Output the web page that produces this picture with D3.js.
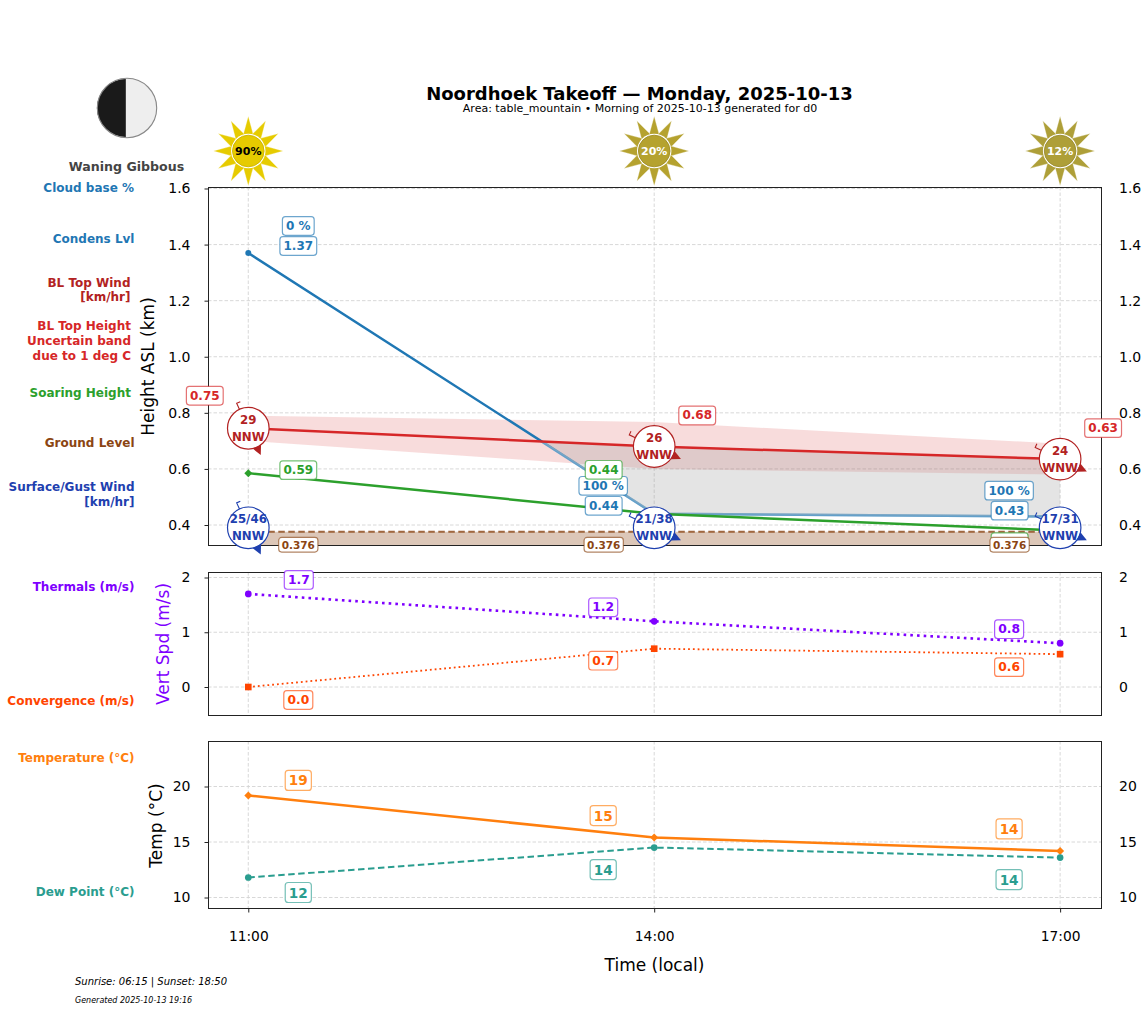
<!DOCTYPE html>
<html><head><meta charset="utf-8">
<script src="https://cdnjs.cloudflare.com/ajax/libs/d3/7.8.5/d3.min.js"></script>
<style>html,body{margin:0;padding:0;background:#fff}svg{display:block}text{font-family:"DejaVu Sans",sans-serif}</style>
</head><body><svg id="c" width="1147" height="1011"></svg>
<script>
const hours=[11,14,17];
const timeLabels=["11:00","14:00","17:00"];
const cloudPct=[90,20,12];
const condensLevel=[1.37,0.44,0.43];
const cloudBasePct=[0,100,100];
const blTop=[0.745,0.68,0.635];
const blTopUpper=[0.79,0.767,0.69];
const blTopLower=[0.70,0.60,0.58];
const soaring=[0.585,0.44,0.38];
const ground=[0.376,0.376,0.376];
const blWind=["29","26","24"];
const blDir=["NNW","WNW","WNW"];
const surfWind=["25/46","21/38","17/31"];
const surfDir=["NNW","WNW","WNW"];
const surfRow=[0.39,0.39,0.39];
const thermals=[1.7,1.2,0.8];
const convergence=[0,0.7,0.6];
const temp=[19.2,15.4,14.2];
const dew=[11.8,14.5,13.6];
const ticks1=[0.4,0.6,0.8,1.0,1.2,1.4,1.6];
const ticks2=[0,1,2];
const ticks3=[10,15,20];

const svg=d3.select("#c");
const L=208,R=1101;
const x=d3.scaleLinear().domain([10.7022,17.3022]).range([L,R]);
const y1=d3.scaleLinear().domain([0.3287,1.6053]).range([545,187]);
const y2=d3.scaleLinear().domain([-0.5114,2.1005]).range([715,572]);
const y3=d3.scaleLinear().domain([9.054,24.1]).range([908,741]);
const compass={NNW:155,WNW:115};

function panel(y,ticks){
  const [b,t]=y.range();
  const g=svg.append("g");
  g.append("g").selectAll("line").data(ticks).join("line")
    .attr("x1",L).attr("x2",R).attr("y1",d=>y(d)).attr("y2",d=>y(d))
    .attr("stroke","#d4d4d4").attr("stroke-width",0.9).attr("stroke-dasharray","3.5,2");
  g.append("g").selectAll("line").data(hours).join("line")
    .attr("x1",d=>x(d)).attr("x2",d=>x(d)).attr("y1",t).attr("y2",b)
    .attr("stroke","#d4d4d4").attr("stroke-width",0.9).attr("stroke-dasharray","3.5,2");
  return g;
}
function frame(y,ticks,fmt){
  const [b,t]=y.range();
  svg.append("rect").attr("x",L+0.5).attr("y",t+0.5).attr("width",R-L).attr("height",b-t)
    .attr("fill","none").attr("stroke","#222").attr("stroke-width",1);
  const la=svg.append("g").attr("transform",`translate(${L},0)`)
    .call(d3.axisLeft(y).tickValues(ticks).tickFormat(fmt).tickSize(3.5).tickPadding(14));
  la.select(".domain").remove();
  la.selectAll("text").attr("font-size",14).attr("fill","#000").attr("font-family","DejaVu Sans");
  la.selectAll("line").attr("stroke","#222");
  const ra=svg.append("g").attr("transform",`translate(${R},0)`)
    .call(d3.axisRight(y).tickValues(ticks).tickFormat(fmt).tickSize(0).tickPadding(18));
  ra.select(".domain").remove();
  ra.selectAll("text").attr("font-size",14).attr("fill","#000").attr("font-family","DejaVu Sans");
}
function path(vals,y,color,w,dash){
  return svg.append("path").datum(vals)
    .attr("d",d3.line().x((d,i)=>x(hours[i])).y(d=>y(d)))
    .attr("fill","none").attr("stroke",color).attr("stroke-width",w)
    .attr("stroke-dasharray",dash||null);
}
function markers(vals,y,color,type,size){
  svg.append("g").selectAll("path").data(vals).join("path")
    .attr("transform",(d,i)=>`translate(${x(hours[i])},${y(d)})`+(type==="d"?" rotate(45)":""))
    .attr("d",d3.symbol().type(type==="c"?d3.symbolCircle:d3.symbolSquare).size(size))
    .attr("fill",color);
}
function label(hour,val,y,dx,dy,text,color,fs,opts={}){
  const g=svg.append("g").attr("transform",`translate(${x(hour)+dx},${y(val)+dy})`);
  const r=g.append("rect");
  const t=g.append("text").text(text).attr("text-anchor","middle").attr("dominant-baseline","central")
    .attr("font-size",fs).attr("font-weight","bold").attr("fill",color);
  const bb=t.node().getBBox();
  const px=opts.px||3.6, h=opts.h||18.6;
  r.attr("x",bb.x-px).attr("y",-h/2).attr("width",bb.width+2*px).attr("height",h).attr("rx",3)
   .attr("fill","#fff").attr("stroke",color).attr("stroke-opacity",0.65).attr("stroke-width",1.2);
  if(opts.covered) t.remove();
}
function sideLabel(lines,xr,ys,color){
  lines.forEach((s,i)=>svg.append("text").text(s).attr("x",xr).attr("y",ys[i]).attr("text-anchor","end")
    .attr("dominant-baseline","central").attr("font-size",12).attr("font-weight","bold").attr("fill",color));
}
function windBadge(hour,val,top,bottom,dir,color){
  const cx=x(hour),cy=y1(val),a=compass[dir]*Math.PI/180;
  const ux=Math.sin(a),uy=-Math.cos(a),px=-uy,py=ux;
  svg.append("circle").attr("cx",cx).attr("cy",cy).attr("r",20.8).attr("fill","#fff").attr("stroke",color).attr("stroke-width",1.2);
  const ex=cx-ux*27.5, ey=cy-uy*27.5;
  svg.append("path").attr("d",`M${cx-ux*20.8},${cy-uy*20.8}L${ex},${ey}L${ex-px*4},${ey-py*4}`)
    .attr("fill","none").attr("stroke",color).attr("stroke-width",1.1);
  const bmx=cx+ux*20.3,bmy=cy+uy*20.3;
  svg.append("text").text(top).attr("x",cx).attr("y",cy-8.5).attr("text-anchor","middle").attr("dominant-baseline","central")
    .attr("font-size",11.8).attr("font-weight","bold").attr("fill",color);
  svg.append("text").text(bottom).attr("x",cx).attr("y",cy+8.5).attr("text-anchor","middle").attr("dominant-baseline","central")
    .attr("font-size",11.8).attr("font-weight","bold").attr("fill",color);
  svg.append("path").attr("d",`M${cx+ux*29.5},${cy+uy*29.5}L${bmx+px*4.6},${bmy+py*4.6}L${bmx-px*4.6},${bmy-py*4.6}Z`).attr("fill",color);
}
function sun(hour,pct){
  const cx=x(hour),cy=151;
  const c=pct>=90?"#e6cb00":pct>=20?"#b5a22f":"#ae9f38";
  const g=svg.append("g").attr("transform",`translate(${cx},${cy})`);
  g.selectAll("path").data(d3.range(12)).join("path")
    .attr("transform",d=>`rotate(${d*30})`).attr("d","M-5.4,-15L0,-34.8L5.4,-15Z").attr("fill",c).attr("stroke","#fff").attr("stroke-width",0.3);
  g.append("circle").attr("r",17.2).attr("fill","#fff");
  g.append("circle").attr("r",15.8).attr("fill",c).attr("stroke",d3.color(c).darker(0.35)).attr("stroke-width",0.9);
  g.append("text").text(pct+"%").attr("text-anchor","middle").attr("dominant-baseline","central")
    .attr("font-size",11).attr("font-weight","bold").attr("fill",pct>=50?"#000":"#fff");
}

/* panel 1 */
panel(y1,ticks1);
const area=(up,lo)=>d3.area().x((d,i)=>x(hours[i])).y0((d,i)=>y1(lo[i])).y1((d,i)=>y1(up[i]))(hours);
svg.append("path").attr("d",area(blTopUpper,blTopLower)).attr("fill","#d62728").attr("opacity",0.16);
path(condensLevel,y1,"#1f77b4",2.5);
const slopeC=(condensLevel[1]-condensLevel[0])/(hours[1]-hours[0]);
const slopeT=(blTop[1]-blTop[0])/(hours[1]-hours[0]);
const hCross=hours[0]+(blTop[0]-condensLevel[0])/(slopeC-slopeT);
const vCross=condensLevel[0]+slopeC*(hCross-hours[0]);
const gHours=[hCross,hours[1],hours[2]],gTop=[vCross,blTop[1],blTop[2]],gBot=[vCross,condensLevel[1],condensLevel[2]];
svg.append("path").attr("d",d3.area().x((d,i)=>x(gHours[i])).y0((d,i)=>y1(gBot[i])).y1((d,i)=>y1(gTop[i]))(gHours))
  .attr("fill","#9a9a9a").attr("opacity",0.27);
svg.append("path").attr("d",d3.line().x((d,i)=>x(gHours[i])).y((d,i)=>y1(gBot[i]))(gHours))
  .attr("fill","none").attr("stroke","#fff").attr("stroke-width",2.5).attr("opacity",0.3);
markers(condensLevel.slice(0,1),y1,"#1f77b4","c",28);
path(blTop,y1,"#d62728",2.5);
path(soaring,y1,"#2ca02c",2.5);
markers(soaring.slice(0,1),y1,"#2ca02c","d",32);
svg.append("path").attr("d",area(ground,ground.map(()=>y1.domain()[0]))).attr("fill","#8b4513").attr("opacity",0.3);
path(ground,y1,"#8b4513",2,"6.5,3.5").attr("opacity",0.8);
frame(y1,ticks1,d3.format(".1f"));

const lc="#1f77b4",lr="#d62728",lg="#2ca02c",lb="#8b4513";
label(11,condensLevel[0],y1,50,-7,condensLevel[0].toFixed(2),lc,12);
label(14,condensLevel[1],y1,-50.5,-8,condensLevel[1].toFixed(2),lc,12);
label(17,condensLevel[2],y1,-50.5,-6,condensLevel[2].toFixed(2),lc,12);
label(11,condensLevel[0],y1,50,-27,cloudBasePct[0]+" %",lc,12);
label(14,condensLevel[1],y1,-51,-28,cloudBasePct[1]+" %",lc,12);
label(17,condensLevel[2],y1,-51,-26,cloudBasePct[2]+" %",lc,12);
label(11,soaring[0],y1,50,-3,"0.59",lg,12);
label(14,soaring[1],y1,-50.5,-44,soaring[1].toFixed(2),lg,12);
label(17,soaring[2],y1,-50.5,11.5,soaring[2].toFixed(2),lg,12,{covered:true});
label(11,blTop[0],y1,-43.5,-32.5,"0.75",lr,12);
label(14,blTop[1],y1,43,-31,blTop[1].toFixed(2),lr,12);
label(17,blTop[2],y1,43,-31,"0.63",lr,12);
hours.forEach((h,i)=>label(h,ground[i],y1,i===0?50:-50.5,13,ground[i].toFixed(3),lb,10.5,{px:3,h:14.6}));

windBadge(11,blTop[0],blWind[0],blDir[0],blDir[0],"#b22222");
windBadge(14,blTop[1],blWind[1],blDir[1],blDir[1],"#b22222");
windBadge(17,blTop[2],blWind[2],blDir[2],blDir[2],"#b22222");
hours.forEach((h,i)=>windBadge(h,surfRow[i],surfWind[i],surfDir[i],surfDir[i],"#1e40af"));

/* panel 2 */
panel(y2,ticks2);
path(thermals,y2,"#7f00ff",2.6,"2.6,4.1");
markers(thermals,y2,"#7f00ff","c",35);
path(convergence,y2,"#ff4500",1.8,"1.8,3");
markers(convergence,y2,"#ff4500","s",44);
frame(y2,ticks2,d3.format("d"));
const lp="#7f00ff",lo="#ff4500";
label(11,thermals[0],y2,50.5,-14,thermals[0].toFixed(1),lp,12.3);
label(14,thermals[1],y2,-51,-14,thermals[1].toFixed(1),lp,12.3);
label(17,thermals[2],y2,-51,-14,thermals[2].toFixed(1),lp,12.3);
label(11,convergence[0],y2,50,13,convergence[0].toFixed(1),lo,12.3);
label(14,convergence[1],y2,-51,12,convergence[1].toFixed(1),lo,12.3);
label(17,convergence[2],y2,-51,13,convergence[2].toFixed(1),lo,12.3);

/* panel 3 */
panel(y3,ticks3);
path(temp,y3,"#ff7f0e",2.5);
markers(temp,y3,"#ff7f0e","d",32);
path(dew,y3,"#2a9d8f",2,"6.5,3.5");
markers(dew,y3,"#2a9d8f","c",35);
frame(y3,ticks3,d3.format("d"));
const lt="#ff7f0e",ld="#2a9d8f";
label(11,temp[0],y3,50,-15,"19",lt,13.6,{h:20});
label(14,temp[1],y3,-51,-22,"15",lt,13.6,{h:20});
label(17,temp[2],y3,-51,-22,"14",lt,13.6,{h:20});
label(11,dew[0],y3,50,15,"12",ld,13.6,{h:20});
label(14,dew[1],y3,-51,22,"14",ld,13.6,{h:20});
label(17,dew[2],y3,-51,22,"14",ld,13.6,{h:20});

/* x axis */
const xa=svg.append("g").attr("transform","translate(0,908.5)")
  .call(d3.axisBottom(x).tickValues(hours).tickFormat((d,i)=>timeLabels[i]).tickSize(4).tickPadding(18.5));
xa.select(".domain").remove();
xa.selectAll("line").attr("stroke","#222");
xa.selectAll("text").attr("font-size",13.8).attr("fill","#000").attr("font-family","DejaVu Sans");
svg.append("text").text("Time (local)").attr("x",654.5).attr("y",965).attr("text-anchor","middle").attr("dominant-baseline","central").attr("font-size",17);

/* axis titles */
function yTitle(s,xp,yp,c){svg.append("text").text(s).attr("transform",`translate(${xp},${yp}) rotate(-90)`)
  .attr("text-anchor","middle").attr("dominant-baseline","central").attr("font-size",17).attr("fill",c);}
yTitle("Height ASL (km)",148,366.5,"#000");
yTitle("Vert Spd (m/s)",163,644,"#7f00ff");
yTitle("Temp (°C)",156,825.5,"#000");

/* side labels */
sideLabel(["Cloud base %"],134,[188],"#1f77b4");
sideLabel(["Condens Lvl"],134.5,[239],"#1f77b4");
sideLabel(["BL Top Wind","[km/hr]"],130.5,[282.5,297],"#b22222");
sideLabel(["BL Top Height","Uncertain band","due to 1 deg C"],131,[326,341,356],"#d62728");
sideLabel(["Soaring Height"],131,[392.5],"#2ca02c");
sideLabel(["Ground Level"],134.5,[443],"#8b4513");
sideLabel(["Surface/Gust Wind","[km/hr]"],134.5,[487,501.5],"#1e40af");
sideLabel(["Thermals (m/s)"],134.5,[587],"#7f00ff");
sideLabel(["Convergence (m/s)"],134.5,[701],"#ff4500");
sideLabel(["Temperature (°C)"],134.5,[758],"#ff7f0e");
sideLabel(["Dew Point (°C)"],134.5,[892],"#2a9d8f");

/* title */
svg.append("text").text("Noordhoek Takeoff — Monday, 2025-10-13").attr("x",639.5).attr("y",93).attr("text-anchor","middle")
  .attr("dominant-baseline","central").attr("font-size",18).attr("font-weight","bold");
svg.append("text").text("Area: table_mountain • Morning of 2025-10-13 generated for d0").attr("x",640).attr("y",108.5).attr("text-anchor","middle")
  .attr("dominant-baseline","central").attr("font-size",11);

/* suns */
hours.forEach((h,i)=>sun(h,cloudPct[i]));

/* moon */
const mx=127,my=108,mr=29.7;
svg.append("circle").attr("cx",mx).attr("cy",my).attr("r",mr).attr("fill","#eeeeee");
svg.append("path").attr("d",d3.arc().innerRadius(0).outerRadius(mr-0.8).startAngle(Math.PI).endAngle(2*Math.PI)()).attr("transform",`translate(${mx-1.2},${my})`).attr("fill","#1a1a1a");
svg.append("circle").attr("cx",mx).attr("cy",my).attr("r",mr).attr("fill","none").attr("stroke","#888").attr("stroke-width",1.1);
svg.append("text").text("Waning Gibbous").attr("x",126.5).attr("y",166).attr("text-anchor","middle").attr("dominant-baseline","central")
  .attr("font-size",12.6).attr("font-weight","bold").attr("fill","#444");

/* footer */
svg.append("text").text("Sunrise: 06:15 | Sunset: 18:50").attr("x",75).attr("y",981).attr("dominant-baseline","central").attr("font-size",10).attr("font-style","italic");
svg.append("text").text("Generated 2025-10-13 19:16").attr("x",75).attr("y",1000).attr("dominant-baseline","central").attr("font-size",8).attr("font-style","italic");
</script></body></html>
